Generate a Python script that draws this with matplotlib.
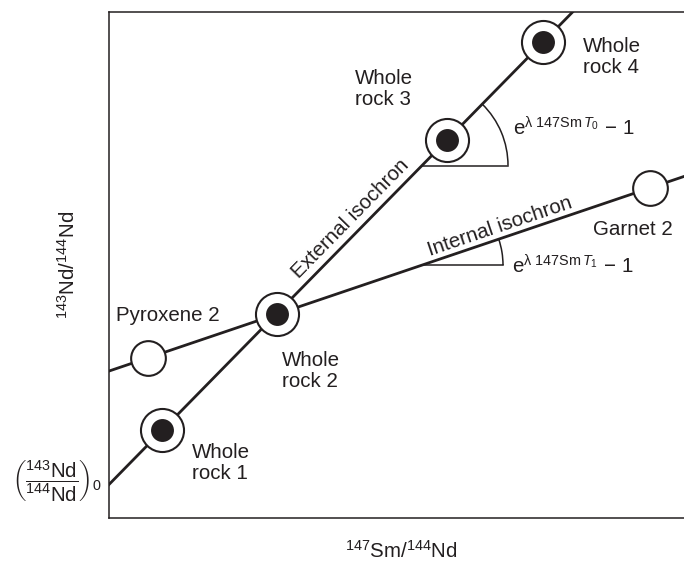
import numpy as np
import matplotlib
matplotlib.use('Agg')
import matplotlib.pyplot as plt
from matplotlib.patches import Arc

plt.rcParams['font.family'] = ['Liberation Sans', 'DejaVu Sans']
plt.rcParams['mathtext.fontset'] = 'custom'
plt.rcParams['mathtext.rm'] = 'Liberation Sans'
plt.rcParams['mathtext.it'] = 'Liberation Sans:italic'
plt.rcParams['mathtext.bf'] = 'Liberation Sans:bold'

INK = '#231f20'

# schematic values (arbitrary units, no ticks on the original)
whole_rock_names = ['Whole\nrock 1', 'Whole\nrock 2', 'Whole\nrock 3', 'Whole\nrock 4']
whole_rock_x = [53, 168, 338, 434]
whole_rock_y = [88, 204, 378, 476]

mineral_names = ['Pyroxene 2', 'Garnet 2']
mineral_x = [39, 541]
mineral_y = [160, 330]

# internal isochron = minerals + whole rock 2
internal_x = [mineral_x[0], whole_rock_x[1], mineral_x[1]]
internal_y = [mineral_y[0], whole_rock_y[1], mineral_y[1]]

x_max = 575
y_max = 506

fig = plt.figure(figsize=(6.84, 5.61), dpi=100)
ax = fig.add_axes([109 / 684, 43 / 561, 575 / 684, 506 / 561])
ax.set_xlim(0, x_max)
ax.set_ylim(0, y_max)
ax.set_xticks([])
ax.set_yticks([])
ax.spines['right'].set_visible(False)
for s in ['left', 'top', 'bottom']:
    ax.spines[s].set_linewidth(1.1)
    ax.spines[s].set_color(INK)

xs = np.array([0, x_max])
ext_slope, ext_icpt = np.polyfit(whole_rock_x, whole_rock_y, 1)
int_slope, int_icpt = np.polyfit(internal_x, internal_y, 1)
ax.plot(xs, ext_icpt + ext_slope * xs, color=INK, lw=2.0, zorder=2)
ax.plot(xs, int_icpt + int_slope * xs, color=INK, lw=2.0, zorder=2)

ext_ang = np.degrees(np.arctan(ext_slope))
int_ang = np.degrees(np.arctan(int_slope))

# slope angles
vx = 313
for slope, icpt, ang, r in [(ext_slope, ext_icpt, ext_ang, 86), (int_slope, int_icpt, int_ang, 81)]:
    vy = icpt + slope * vx
    ax.plot([vx, vx + r], [vy, vy], color=INK, lw=1.1, zorder=2)
    ax.add_patch(Arc((vx, vy), 2 * r, 2 * r, theta1=0, theta2=ang, color=INK, lw=1.1, zorder=2))

# points
ax.plot(whole_rock_x, whole_rock_y, 'o', ms=31, mfc='white', mec=INK, mew=1.5, zorder=3)
ax.plot(whole_rock_x, whole_rock_y, 'o', ms=16.5, mfc=INK, mec=INK, mew=0, zorder=4)
ax.plot(mineral_x, mineral_y, 'o', ms=25, mfc='white', mec=INK, mew=1.5, zorder=3)

fs = 14.8
label_pos = [(83, 39), (173, 131), (246, 413), (474, 445)]
for name, (tx, ty) in zip(whole_rock_names, label_pos):
    ax.text(tx, ty, name, fontsize=fs, color=INK, ha='left', va='baseline', linespacing=1.15)
ax.text(7, 197, mineral_names[0], fontsize=fs, color=INK, ha='left', va='baseline')
ax.text(484, 283, mineral_names[1], fontsize=fs, color=INK, ha='left', va='baseline')

ax.text(241, 299, 'External isochron', fontsize=fs, color=INK, rotation=ext_ang,
        ha='center', va='center', rotation_mode='anchor')
ax.text(391, 291, 'Internal isochron', fontsize=fs, color=INK, rotation=int_ang,
        ha='center', va='center', rotation_mode='anchor')

ax.text(404, 383, r'e$^{\mathrm{λ}\ \mathrm{147Sm}\,T_0}\,-\,$1', fontsize=fs, color=INK,
        ha='left', va='baseline')
ax.text(403, 245, r'e$^{\mathrm{λ}\ \mathrm{147Sm}\,T_1}\,-\,$1', fontsize=fs, color=INK,
        ha='left', va='baseline')

ax.text(-52, 37, r'$\left(\dfrac{^{143}\mathrm{Nd}}{^{144}\mathrm{Nd}}\right)_0$', fontsize=fs,
        color=INK, ha='center', va='center', clip_on=False)

fig.text(401 / 684, 3 / 561, r'$^{147}$Sm/$^{144}$Nd', fontsize=fs, color=INK,
         ha='center', va='baseline')
fig.text(68 / 684, 1 - 265 / 561, r'$^{143}$Nd/$^{144}$Nd', fontsize=fs, color=INK,
         ha='center', va='center', rotation=90)

fig.savefig('out.png', dpi=100)
